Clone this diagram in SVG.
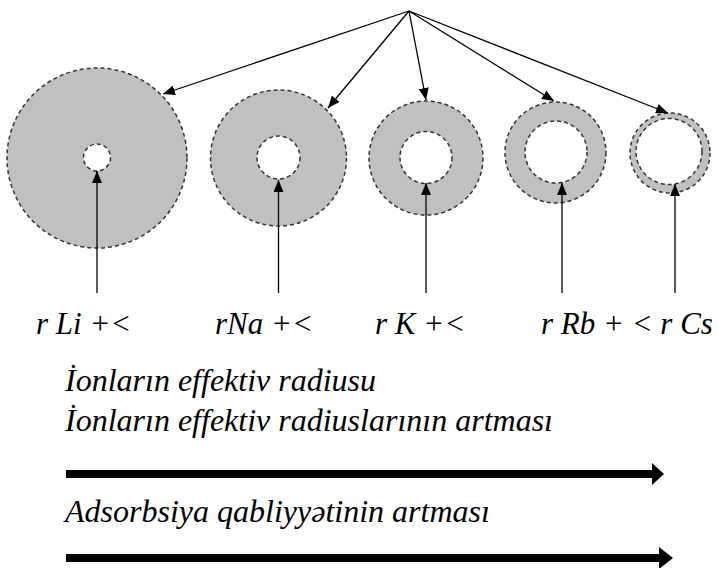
<svg xmlns="http://www.w3.org/2000/svg" width="718" height="568" viewBox="0 0 718 568">
<defs>
<style>
.outer{fill:#c0c0c0;stroke:#333;stroke-width:1.5;stroke-dasharray:4 3}
.inner{fill:#fff;stroke:#333;stroke-width:1.5;stroke-dasharray:4 3}
.conn{stroke:#000;stroke-width:1.3;fill:none;marker-end:url(#ah)}
.t{font-family:"Liberation Serif","Times New Roman",serif;font-style:italic;fill:#000}
.big{fill:#000}
</style>
<marker id="ah" viewBox="0 0 12 10" refX="12" refY="5" markerWidth="12" markerHeight="10" markerUnits="userSpaceOnUse" orient="auto">
<path d="M0,0 L12,5 L0,10 z" fill="#000"/>
</marker>
</defs>
<rect width="718" height="568" fill="#fff"/>
<g id="ion-li">
<circle class="outer" cx="97" cy="158" r="90"/>
<circle class="inner" cx="97" cy="157.5" r="13.5"/>
</g>
<g id="ion-na">
<circle class="outer" cx="278.5" cy="158" r="68"/>
<circle class="inner" cx="278.5" cy="157.5" r="21.5"/>
</g>
<g id="ion-k">
<circle class="outer" cx="426" cy="158" r="57"/>
<circle class="inner" cx="426" cy="157.5" r="26"/>
</g>
<g id="ion-rb">
<circle class="outer" cx="555.5" cy="152.5" r="50.5"/>
<circle class="inner" cx="556" cy="152" r="31"/>
</g>
<g id="ion-cs">
<circle class="outer" cx="670" cy="153" r="40"/>
<circle class="inner" cx="669" cy="151.5" r="33"/>
</g>
<g id="connectors">
<line class="conn" x1="409" y1="11" x2="163" y2="94"/>
<line class="conn" x1="409" y1="11" x2="328" y2="108"/>
<line class="conn" x1="409" y1="11" x2="426" y2="100"/>
<line class="conn" x1="409" y1="11" x2="554" y2="101"/>
<line class="conn" x1="409" y1="11" x2="668" y2="113"/>
<line class="conn" x1="97" y1="293" x2="97" y2="171"/>
<line class="conn" x1="278.5" y1="293" x2="278.5" y2="180"/>
<line class="conn" x1="426" y1="293" x2="426" y2="183"/>
<line class="conn" x1="562" y1="293" x2="562" y2="183"/>
<line class="conn" x1="675" y1="293" x2="675" y2="184"/>
</g>
<g id="labels">
<text class="t" x="36" y="334" font-size="31">r Li +&lt;</text>
<text class="t" x="215" y="334" font-size="31">rNa +&lt;</text>
<text class="t" x="375" y="334" font-size="31">r K +&lt;</text>
<text class="t" x="541" y="334" font-size="31">r Rb + &lt; r Cs</text>
<text class="t" x="65" y="391" font-size="32">İonların effektiv radiusu</text>
<text class="t" x="65" y="431" font-size="32">İonların effektiv radiuslarının artması</text>
<text class="t" x="65" y="522" font-size="32">Adsorbsiya qabliyyətinin artması</text>
</g>
<g id="trend-arrows">
<rect class="big" x="66" y="470" width="587" height="8"/>
<polygon class="big" points="652,463 664,474 652,485"/>
<rect class="big" x="66" y="554" width="594" height="8"/>
<polygon class="big" points="659,547 673,558 659,569"/>
</g>
</svg>
